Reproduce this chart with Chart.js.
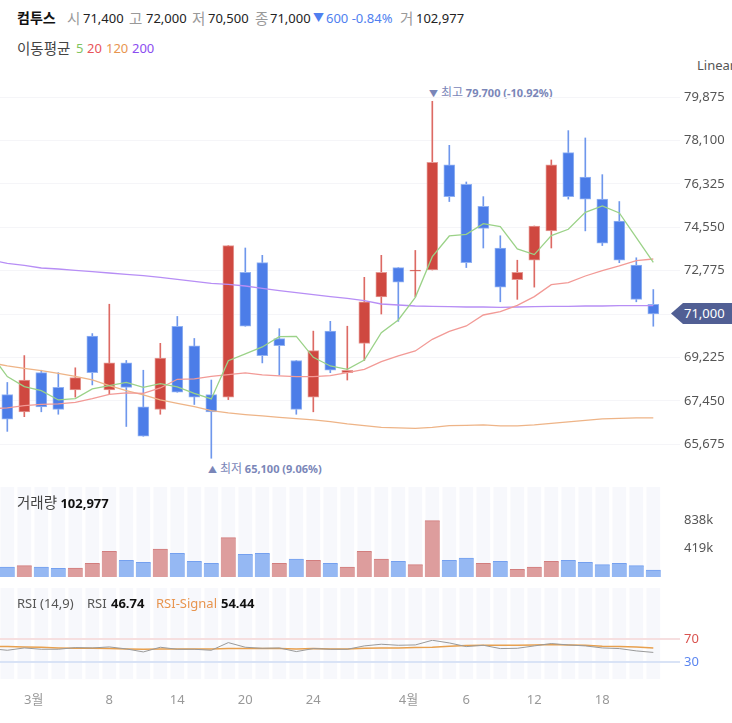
<!DOCTYPE html>
<html>
<head>
<meta charset="utf-8">
<script src="https://cdn.jsdelivr.net/npm/chart.js@4"></script>
<style>
html, body { margin: 0; padding: 0; background: #fff; }
body { width: 732px; height: 723px; overflow: hidden; position: relative; font-family: 'Noto Sans', 'Noto Sans CJK KR', sans-serif; font-size: 13px; color: #222; }
canvas { position: absolute; left: 0; }
.t { position: absolute; white-space: nowrap; line-height: 18px; }
.k { font-size: 14.5px; }
.g { color: #999; }
.b { color: #4f7ff0; }
.n { color: #7a86b8; font-size: 11px; font-weight: 700; }
.n i { font-style: normal; font-weight: 400; font-size: 12px; }
#tag { position: absolute; left: 671px; top: 303px; width: 61px; height: 21px; background: #515f94; clip-path: polygon(0 50%, 12px 0, 100% 0, 100% 100%, 12px 100%); color: #fff; line-height: 21px; text-indent: 13px; }
</style>
</head>
<body>
<span class="t k" style="left:17px;top:9px;font-weight:700;color:#111;font-size:14px">컴투스</span>
<span class="t g k" style="left:67px;top:9px">시</span><span class="t" style="left:83px;top:9px">71,400</span>
<span class="t g k" style="left:129px;top:9px">고</span><span class="t" style="left:146px;top:9px">72,000</span>
<span class="t g k" style="left:192px;top:9px">저</span><span class="t" style="left:208px;top:9px">70,500</span>
<span class="t g k" style="left:255px;top:9px">종</span><span class="t" style="left:270px;top:9px">71,000</span>
<span class="t b" style="left:313px;top:9px;font-size:11px">▼</span><span class="t b" style="left:326px;top:9px">600 -0.84%</span>
<span class="t g k" style="left:400px;top:9px">거</span><span class="t" style="left:416px;top:9px">102,977</span>

<span class="t k" style="left:17px;top:39px;color:#444">이동평균</span>
<span class="t" style="left:76px;top:39px;color:#7fc45f">5</span>
<span class="t" style="left:87px;top:39px;color:#e8545a">20</span>
<span class="t" style="left:106px;top:39px;color:#e8954f">120</span>
<span class="t" style="left:132px;top:39px;color:#8b4df0">200</span>

<span class="t" style="left:697px;top:56px;color:#555">Linear</span>
<span class="t n" style="left:429px;top:84px"><span style="font-size:9px">▼</span> <i>최고</i> 79,700 (-10.92%)</span>
<span class="t n" style="left:208px;top:460px"><span style="font-size:9px">▲</span> <i>최저</i> 65,100 (9.06%)</span>

<canvas id="priceChart" width="732" height="410" style="top:70px"></canvas>
<canvas id="volumeChart" width="732" height="90" style="top:487px"></canvas>
<canvas id="rsiChart" width="732" height="118" style="top:588px"></canvas>

<div id="tag">71,000</div>
<span class="t" style="left:17px;top:493px;color:#444"><span class="k">거래량</span> <b style="color:#111">102,977</b></span>
<span class="t" style="left:17px;top:594px;color:#555">RSI (14,9)</span>
<span class="t" style="left:87px;top:594px;color:#555">RSI</span>
<span class="t" style="left:111px;top:594px;font-weight:700;color:#111">46.74</span>
<span class="t" style="left:156px;top:594px;color:#e8954f">RSI-Signal</span>
<span class="t" style="left:221px;top:594px;font-weight:700;color:#111">54.44</span>

<script>
// candles, oldest first
var opens = [67700,67000,68600,68000,67900,70100,67900,69000,67200,67100,70500,69700,67700,67600,72700,73100,70000,69100,67600,70300,68600,69800,71700,72900,72750,72800,77100,76300,75400,73700,72400,73200,74400,77600,76600,75700,74800,73000,71400];
var closes = [66700,68300,67200,67100,68400,68600,69000,68000,66000,69200,67800,67600,67000,73800,70500,69300,69700,67100,69500,68700,68700,71500,72700,72300,72800,77200,75800,73100,74500,72100,72700,74600,77100,75800,75700,73900,73200,71600,71000];
var highs = [68200,69300,68700,68600,68800,70200,71400,69100,68700,69800,70900,70000,68300,73800,73700,73400,70400,69100,70300,70700,70500,72500,73400,72900,73600,79700,77900,76400,75800,74200,73200,74600,77300,78500,78200,76700,75600,73300,72000];
var lows = [66200,66800,67000,66900,67600,68100,67700,66400,66000,66900,67800,67300,65100,67500,70500,69000,68500,66900,67000,68600,68300,69100,71000,70700,71700,72800,75600,72900,73700,71500,71600,72100,73700,75700,74400,73800,73100,71500,70500];

// moving averages start one session before the first visible candle
var ma5 = [69393,68439,68030,67866,67485,67539,67934,68071,68207,68003,68152,68016,67757,67526,69093,69366,69652,70074,70088,69229,68875,68739,69120,70238,70756,71683,73347,74192,74260,74697,74574,73661,73429,74206,74465,75160,75419,75133,74124,73116];
var ma20 = [67130,67157,67253,67308,67321,67389,67539,67716,67771,67757,67975,68330,68343,68452,68520,68589,68507,68466,68439,68439,68480,68602,68739,69052,69284,69488,69965,70292,70510,70960,71097,71356,71710,72201,72282,72555,72773,72964,73182,73250];
var ma120 = [69011,68875,68779,68684,68575,68452,68302,68071,67866,67689,67485,67348,67212,67049,66953,66885,66830,66776,66721,66667,66599,66503,66435,66367,66340,66326,66367,66435,66449,66462,66421,66421,66462,66530,66585,66653,66708,66735,66749,66749];
var ma200 = [73209,73073,72991,72882,72841,72787,72732,72678,72623,72569,72500,72419,72337,72255,72214,72146,72051,71955,71873,71792,71710,71642,71546,71410,71369,71328,71315,71301,71287,71287,71274,71287,71301,71315,71315,71328,71328,71342,71342,71342];

var volumes = [148000,167800,148000,128300,133200,202300,380000,246700,217100,414500,350400,231900,202300,582300,335600,350400,202300,266500,246700,202300,148000,380000,266500,231900,182600,834000,246700,281300,202300,231900,113500,148000,231900,246700,217100,182600,202300,167800,102977];
var volumeUp = [0,1,0,0,1,1,1,0,0,1,0,0,0,1,0,0,1,0,1,0,1,1,1,0,1,1,0,0,1,0,1,1,1,0,0,0,0,0,0];

var rsi = [53.5,50.5,54.6,52.3,52.3,55.2,54.6,56.4,52.9,47.6,55.8,52.3,52.3,50.5,64.0,55.8,54.0,54.6,48.2,53.5,52.3,52.3,58.2,61.1,59.3,59.9,68.1,63.4,57.0,59.3,53.5,54.0,58.2,62.3,59.9,58.2,54.6,53.5,49.4,46.74];
var rsiSignal = [57.0,57.0,56.4,55.8,54.6,54.0,54.0,53.5,52.9,52.3,52.9,52.9,52.9,52.9,53.5,53.5,53.5,53.5,52.9,53.5,52.9,52.9,54.0,54.6,54.6,55.2,55.8,57.6,58.8,59.3,59.3,59.3,59.9,60.5,59.9,59.3,57.6,57.0,56.4,54.44];

var priceTicks = [65675,67450,69225,71000,72775,74550,76325,78100,79875];
var volumeTicks = [419000,838000];
var rsiTicks = [30,70];
var dateTicks = [1.55,6,10,14,18,23.6,27,31,35];
var dateLabels = ['3월','8','14','20','24','4월','6','12','18'];

var FONT = {family: "'Noto Sans', 'Noto Sans CJK KR', sans-serif", size: 13};
var RED = '#cf4840', BLUE = '#4c7de8';
var X_MIN = -0.43, X_MAX = 39.57, AXIS_W = 52;

function xAxis(display) {
    return {
        type: 'linear', min: X_MIN, max: X_MAX, display: display, offset: false,
        grid: {display: false}, border: {display: false},
        afterBuildTicks: function (axis) { axis.ticks = dateTicks.map(function (v) { return {value: v}; }); },
        afterFit: function (axis) { axis.height = display ? 27 : 0; axis.paddingLeft = 0; axis.paddingRight = 0; },
        ticks: {
            autoSkip: false, maxRotation: 0, font: FONT, color: '#999', padding: 5,
            callback: function (v) { return dateLabels[dateTicks.indexOf(v)]; }
        }
    };
}

function yAxis(min, max, values, format, gridColor, labelColor) {
    return {
        type: 'linear', position: 'right', min: min, max: max,
        border: {display: false},
        grid: {color: gridColor, drawTicks: false},
        afterBuildTicks: function (axis) { axis.ticks = values.map(function (v) { return {value: v}; }); },
        afterFit: function (axis) { axis.width = AXIS_W; axis.paddingTop = 0; axis.paddingBottom = 0; },
        ticks: {font: FONT, color: labelColor, padding: 4, callback: format}
    };
}

function points(values, start) {
    return values.map(function (v, i) { return {x: i + start, y: v}; });
}

function line(values, color, width) {
    return {type: 'line', data: points(values, -1), borderColor: color, borderWidth: width || 1.3, pointRadius: 0, tension: 0, order: 1};
}

// pale column behind each session in the lower panels
function bands(max) {
    return {type: 'bar', data: opens.map(function (v, i) { return {x: i, y: max}; }), backgroundColor: '#f7f8fc', barThickness: 13, grouped: false, order: 9};
}

function makeChart(id, datasets, x, y) {
    return new Chart(document.getElementById(id), {
        type: 'bar',
        data: {datasets: datasets},
        options: {
            responsive: false, animation: false, events: [],
            layout: {padding: 0},
            plugins: {legend: {display: false}, tooltip: {enabled: false}},
            scales: {x: x, y: y}
        }
    });
}

function isUp(i) { return closes[i] >= opens[i]; }

makeChart('priceChart', [
    line(ma5, '#9bd288'),
    line(ma20, '#f29a96'),
    line(ma120, '#eeb487'),
    line(ma200, '#b78ef5'),
    {
        data: opens.map(function (v, i) { return {x: i, y: [Math.min(v, closes[i]), Math.max(v, closes[i])]}; }),
        backgroundColor: opens.map(function (v, i) { return isUp(i) ? RED : BLUE; }),
        borderColor: opens.map(function (v, i) { return isUp(i) ? '#e59a95' : '#93b3f2'; }),
        borderWidth: 1, borderSkipped: false, barThickness: 11, grouped: false, order: 2
    },
    {
        data: lows.map(function (v, i) { return {x: i, y: [v, highs[i]]}; }),
        backgroundColor: opens.map(function (v, i) { return isUp(i) ? '#dd6a64' : '#6f97ec'; }),
        barThickness: 1, grouped: false, order: 3
    }
], xAxis(false), yAxis(64211, 80980, priceTicks, function (v) { return v.toLocaleString('en-US'); }, '#f5f5f8', '#555'));

makeChart('volumeChart', [
    bands(1332000),
    {
        data: points(volumes, 0),
        backgroundColor: volumeUp.map(function (u) { return u ? '#dd9d9d' : '#95b8f3'; }),
        borderColor: volumeUp.map(function (u) { return u ? '#d27d7d' : '#74a0ef'; }),
        borderWidth: {top: 1, left: 0, right: 0, bottom: 0}, borderSkipped: false,
        barThickness: 15, grouped: false, order: 2
    }
], xAxis(false), yAxis(0, 1332000, volumeTicks, function (v) { return (v / 1000) + 'k'; }, 'transparent', '#555'));

var rsiY = yAxis(0, 160, rsiTicks, function (v) { return v; }, function (ctx) {
    return ctx.tick && ctx.tick.value === 70 ? '#f6dfe0' : '#d9e3f6';
}, function (ctx) {
    return ctx.tick.value === 70 ? '#d9534f' : '#5b86f0';
});
rsiY.grid.z = 1;
rsiY.grid.lineWidth = 2;

makeChart('rsiChart', [
    bands(160),
    line(rsi, '#9a9a9a', 1),
    line(rsiSignal, '#e8a04e', 1.5)
], xAxis(true), rsiY);
</script>
</body>
</html>
